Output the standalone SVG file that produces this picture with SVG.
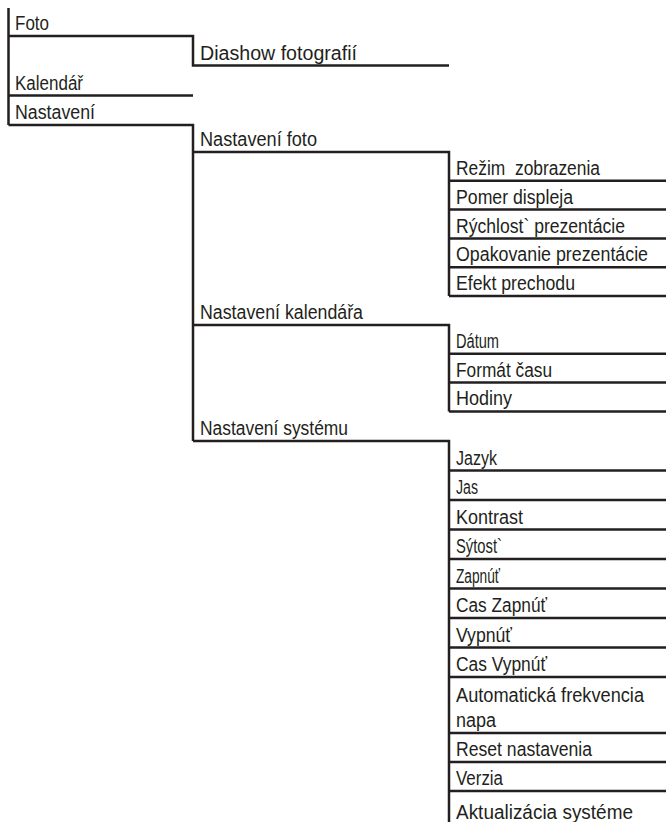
<svg xmlns="http://www.w3.org/2000/svg" width="666" height="822" viewBox="0 0 666 822">
<style>
text{font-family:"Liberation Sans",Arial,sans-serif;font-size:19.5px;fill:#231f20;white-space:pre}
.ln{fill:none;stroke:#231f20;stroke-width:2.5;stroke-linecap:butt;stroke-linejoin:miter}
</style>
<rect width="666" height="822" fill="#fff"/>
<g id="connectors">
<path class="ln" d="M8.5,8 V125 M8.5,36 H193 V65.5 H449 M8.5,95.5 H193 M8.5,125 H193 V441"/>
<path class="ln" d="M193,152 H449 V296 M193,325 H449 V411.4 M193,441 H449 V822"/>
<path class="ln" d="M449,180.8 H666 M449,209.6 H666 M449,238.4 H666 M449,267.2 H666 M449,296 H666"/>
<path class="ln" d="M449,353.8 H666 M449,382.6 H666 M449,411.4 H666"/>
<path class="ln" d="M449,470.5 H666 M449,500 H666 M449,529.5 H666 M449,559 H666 M449,588.5 H666 M449,618 H666 M449,647.5 H666 M449,677 H666 M449,733 H666 M449,762 H666 M449,791 H666"/>
</g>
<g id="n-foto"><text x="15" y="30" textLength="34" lengthAdjust="spacingAndGlyphs">Foto</text></g>
<g id="n-diashow"><text x="200" y="59.5" textLength="157" lengthAdjust="spacingAndGlyphs">Diashow fotografií</text></g>
<g id="n-kalendar"><text x="15" y="89.5" textLength="68" lengthAdjust="spacingAndGlyphs">Kalendář</text></g>
<g id="n-nastaveni"><text x="15" y="119" textLength="80" lengthAdjust="spacingAndGlyphs">Nastavení</text></g>
<g id="n-nast-foto"><text x="200" y="146" textLength="117" lengthAdjust="spacingAndGlyphs">Nastavení foto</text></g>
<g id="n-rezim"><text x="456" y="174.5" textLength="144" lengthAdjust="spacingAndGlyphs" xml:space="preserve">Režim  zobrazenia</text></g>
<g id="n-pomer"><text x="456" y="203.5" textLength="117" lengthAdjust="spacingAndGlyphs">Pomer displeja</text></g>
<g id="n-rychlost"><text x="456" y="232.5" textLength="169" lengthAdjust="spacingAndGlyphs">Rýchlost` prezentácie</text></g>
<g id="n-opakovanie"><text x="456" y="261" textLength="192" lengthAdjust="spacingAndGlyphs">Opakovanie prezentácie</text></g>
<g id="n-efekt"><text x="456" y="290" textLength="119" lengthAdjust="spacingAndGlyphs">Efekt prechodu</text></g>
<g id="n-nast-kal"><text x="200" y="319" textLength="163" lengthAdjust="spacingAndGlyphs">Nastavení kalendářa</text></g>
<g id="n-datum"><text x="456" y="347.5" textLength="43" lengthAdjust="spacingAndGlyphs">Dátum</text></g>
<g id="n-format"><text x="456" y="376.5" textLength="96" lengthAdjust="spacingAndGlyphs">Formát času</text></g>
<g id="n-hodiny"><text x="456" y="405" textLength="56" lengthAdjust="spacingAndGlyphs">Hodiny</text></g>
<g id="n-nast-sys"><text x="200" y="435" textLength="148" lengthAdjust="spacingAndGlyphs">Nastavení systému</text></g>
<g id="n-jazyk"><text x="456" y="464.5" textLength="41" lengthAdjust="spacingAndGlyphs">Jazyk</text></g>
<g id="n-jas"><text x="456" y="494" textLength="22" lengthAdjust="spacingAndGlyphs">Jas</text></g>
<g id="n-kontrast"><text x="456" y="523.5" textLength="67" lengthAdjust="spacingAndGlyphs">Kontrast</text></g>
<g id="n-sytost"><text x="456" y="553" textLength="46" lengthAdjust="spacingAndGlyphs">Sýtost`</text></g>
<g id="n-zapnut"><text x="456" y="582.5" textLength="44" lengthAdjust="spacingAndGlyphs">Zapnúť</text></g>
<g id="n-cas-zapnut"><text x="456" y="612" textLength="91" lengthAdjust="spacingAndGlyphs">Cas Zapnúť</text></g>
<g id="n-vypnut"><text x="456" y="641.5" textLength="56" lengthAdjust="spacingAndGlyphs">Vypnúť</text></g>
<g id="n-cas-vypnut"><text x="456" y="671" textLength="91" lengthAdjust="spacingAndGlyphs">Cas Vypnúť</text></g>
<g id="n-auto"><text x="456" y="702" textLength="188" lengthAdjust="spacingAndGlyphs">Automatická frekvencia</text><text x="456" y="727" textLength="40" lengthAdjust="spacingAndGlyphs">napa</text></g>
<g id="n-reset"><text x="456" y="756" textLength="136" lengthAdjust="spacingAndGlyphs">Reset nastavenia</text></g>
<g id="n-verzia"><text x="456" y="785" textLength="47" lengthAdjust="spacingAndGlyphs">Verzia</text></g>
<g id="n-aktualizacia"><text x="456" y="819" textLength="177" lengthAdjust="spacingAndGlyphs">Aktualizácia systéme</text></g>
</svg>
